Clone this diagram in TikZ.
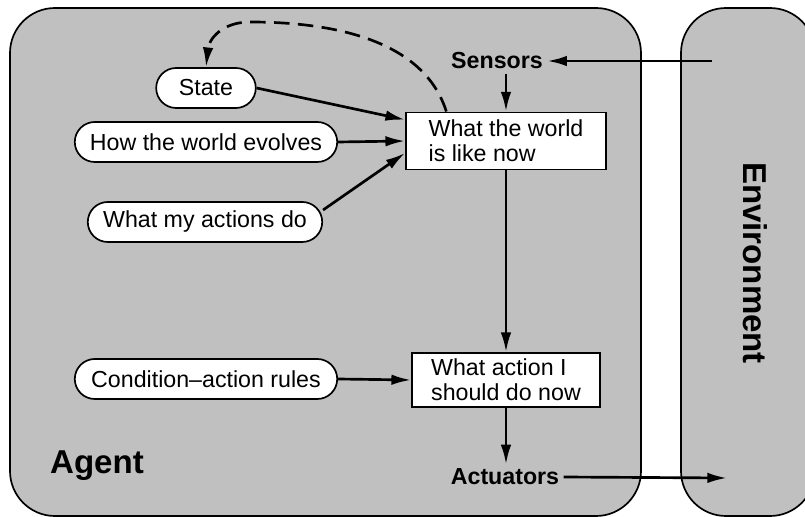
\documentclass[tikz,border=0pt]{standalone}
\usepackage{fontspec}
\setmainfont{Liberation Sans}
\usepackage{tikz}
\usetikzlibrary{%
	arrows.meta,%
	shapes.misc,%
	calc
}
\definecolor{agentgray}{RGB}{192,192,192}

\begin{document}
\begin{tikzpicture}[x=0.025cm,y=-0.025cm,
		pill/.style={rounded rectangle,draw,line width=1.2pt,fill=white,
			minimum height=1cm,inner sep=2pt,font=\fontsize{16.5}{17}\selectfont},
		kbox/.style={rectangle,draw,line width=1.2pt,fill=white,align=left,
			inner sep=2pt,font=\fontsize{16.5}{17.5}\selectfont},
		lbl/.style={inner sep=3pt,font=\fontsize{16.5}{17}\selectfont\bfseries},
		big/.style={inner sep=2pt,font=\fontsize{23.5}{24}\selectfont\bfseries},
		arr/.style={line width=1.9pt,-{Latex[length=14pt,width=7.5pt]}}]
			\useasboundingbox (0,0) rectangle (805,517);
			\clip (0,0) rectangle (805,517);
			% Agent and environment
			\draw[fill=agentgray,line width=1.2pt,rounded corners=32] (10,8) rectangle (641,516);
			\draw[fill=agentgray,line width=1.2pt,rounded corners=32] (681,8) rectangle (815,516);
			
			% Knowledge of the agent
			\node[pill,minimum width=2.63cm] (state) at (206,88) {State};
			\node[pill,minimum width=6.7cm] (evolve) at (206,142) {How the world evolves};
			\node[pill,minimum width=6cm] (acts) at (205,222) {What my actions do};
			\node[pill,minimum width=6.7cm] (rules) at (206,379) {Condition--action rules};
			
			\node[kbox,minimum width=5cm,minimum height=1.43cm] (world) at (506,141) {What the world\\is like now};
			\node[kbox,minimum width=4.7cm,minimum height=1.35cm] (act) at (506,380) {What action I\\should do now};
			
			\node[lbl] (sensors) at (497,61) {Sensors};
			\node[lbl] (actuators) at (505,477) {Actuators};
			\node[big] (agent) at (97,466) {Agent};
			\node[big,rotate=-90] (env) at (755,263) {Environment};
			
			\coordinate (envin) at (712,61);
			\coordinate (envout) at (727,478);
			\coordinate (top) at (250,22);
			
			% Arrows
			\draw[arr] (envin) -- (sensors.east);
			\draw[arr] (sensors.south -| world.north) -- (world.north);
			\draw[arr] (state.east) -- ([yshift=0.53cm]world.west);
			\draw[arr] (evolve.east) -- (world.west);
			\draw[arr] ([yshift=0.3cm]acts.east) -- ([yshift=-0.3cm]world.west);
			\draw[arr] (world.south) -- (act.north);
			\draw[arr] (rules.east) -- (act.west);
			\draw[arr] (act.south) -- (actuators.north -| act.south);
			\draw[arr] (actuators.east) -- (envout);
			% Update of the state
			\draw[arr,dash pattern=on 11pt off 6pt] ([xshift=1.03cm]world.north west)
				.. controls +(-23,-73) and +(80,0) .. (top)
				.. controls +(-28,0) and +(3,-28) .. (state.north);
		\end{tikzpicture}
\end{document}
